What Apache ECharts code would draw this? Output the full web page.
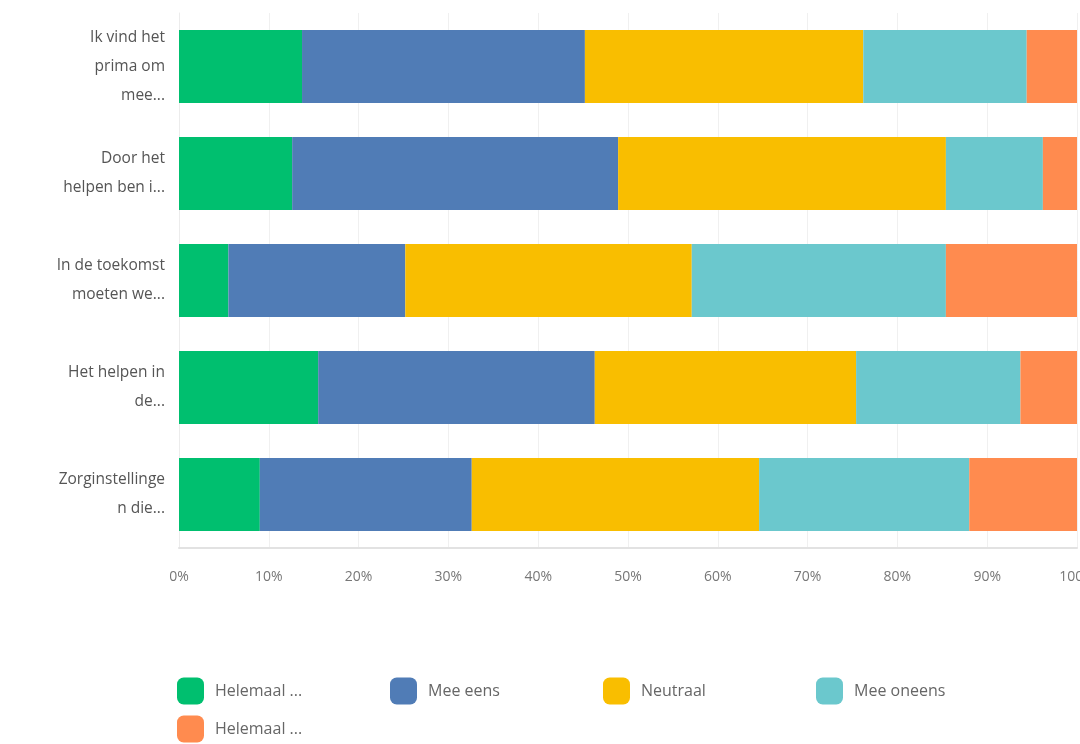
<!DOCTYPE html>
<html>
<head>
<meta charset="utf-8">
<script src="https://cdn.jsdelivr.net/npm/echarts@6/dist/echarts.min.js"></script>
<style>html,body{margin:0;padding:0;background:#fff}#c{width:1080px;height:744px}</style>
</head>
<body>
<div id="c"></div>
<script>
const categories = [
  "Ik vind het\nprima om\nmee...",
  "Door het\nhelpen ben i...",
  "In de toekomst\nmoeten we...",
  "Het helpen in\nde...",
  "Zorginstellinge\nn die..."
];
const seriesNames = ["Helemaal mee eens", "Mee eens", "Neutraal", "Mee oneens", "Helemaal mee oneens"];
const legendLabels = ["Helemaal ...", "Mee eens", "Neutraal", "Mee oneens", "Helemaal ..."];
const helemaalEens = [13.7, 12.6, 5.5, 15.5, 9.0];
const meeEens      = [31.5, 36.3, 19.7, 30.8, 23.6];
const neutraal     = [31.0, 36.5, 31.9, 29.1, 32.0];
const meeOneens    = [18.2, 10.8, 28.3, 18.3, 23.4];
const helemaalOneens = [5.6, 3.8, 14.6, 6.3, 12.0];
const xTicks = [0, 10, 20, 30, 40, 50, 60, 70, 80, 90, 100];
const colors = ["#00BF6F", "#507CB6", "#F9BE00", "#6BC8CD", "#FF8B4F"];

const values = [helemaalEens, meeEens, neutraal, meeOneens, helemaalOneens];
const chart = echarts.init(document.getElementById('c'));
chart.setOption({
  animation: false,
  color: colors,
  grid: { left: 179, right: 3, top: 13, bottom: 196, containLabel: false, outerBoundsMode: 'none' },
  xAxis: {
    type: 'value', min: xTicks[0], max: xTicks[xTicks.length - 1], interval: 10,
    axisLine: { show: true, lineStyle: { color: '#e2e2e2', width: 2 } },
    axisTick: { show: false },
    splitLine: { show: true, lineStyle: { color: '#f0f0f0', width: 1 } },
    axisLabel: { formatter: '{value}%', color: '#777', fontFamily: 'Open Sans', fontSize: 14, margin: 22 }
  },
  yAxis: {
    type: 'category', data: categories, inverse: true,
    axisLine: { show: true, lineStyle: { color: '#ececec' } },
    axisTick: { show: false },
    axisLabel: { color: '#555', fontFamily: 'Open Sans', fontSize: 15.5, lineHeight: 29, align: 'right', margin: 14, padding: [3, 0, 0, 0] }
  },
  legend: {
    left: 172, top: 668, width: 880,
    icon: 'roundRect', itemWidth: 27, itemHeight: 27, itemGap: 2,
    data: seriesNames,
    formatter: function (name) { return legendLabels[seriesNames.indexOf(name)]; },
    textStyle: { color: '#666', fontFamily: 'Open Sans', fontSize: 16, width: 173, lineHeight: 36, padding: [0, 0, 0, 6] }
  },
  series: seriesNames.map(function (n, i) {
    return { name: n, type: 'bar', stack: 'total', data: values[i], barWidth: 73 };
  })
});
</script>
</body>
</html>
